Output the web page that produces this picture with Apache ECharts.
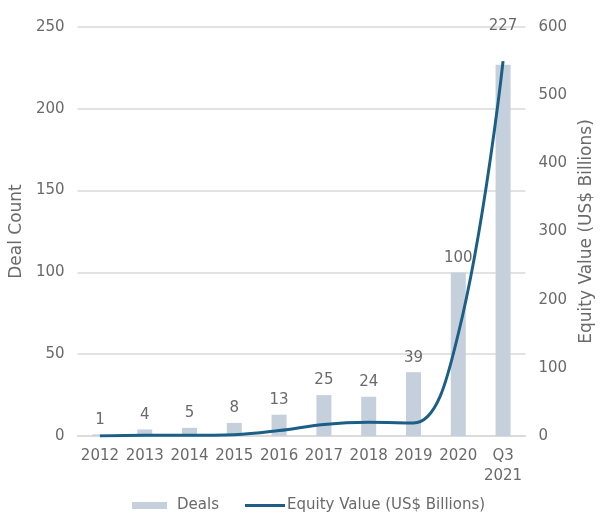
<!DOCTYPE html>
<html><head><meta charset="utf-8">
<script src="https://cdn.jsdelivr.net/npm/echarts@6/dist/echarts.min.js"></script>
<style>html,body{margin:0;padding:0;background:#fff}#c{width:603px;height:520px}</style>
</head><body><div id="c"></div>
<script>
const categories = ['2012','2013','2014','2015','2016','2017','2018','2019','2020','Q3\n2021'];
const deals = [1,4,5,8,13,25,24,39,100,227];
const equityValue = [0,1,1,2,8,17,20,19,150,550];
const leftTicks = {min:0,max:250,interval:50};
const rightTicks = {min:0,max:600,interval:100};

const font = 'DejaVu Sans, Verdana, sans-serif';
const grey = '#6a6a6a';
const barColor = '#c6d0dd';
const lineColor = '#1b5f87';
const chart = echarts.init(document.getElementById('c'));
chart.setOption({
  animation:false,
  grid:{left:76,right:70,top:27,bottom:84},
  legend:[{
    left:132, top:498, padding:0, itemWidth:35, itemHeight:7, itemGap:0,
    textStyle:{fontFamily:font,fontSize:15,color:grey,padding:[0,0,0,5]},
    data:[{name:'Deals',icon:'rect'}]
  },{
    left:245, top:498, padding:0, itemWidth:40, itemHeight:3, itemGap:0,
    textStyle:{fontFamily:font,fontSize:15,color:grey,padding:[0,0,0,-3]},
    data:[{name:'Equity Value (US$ Billions)',icon:'rect'}]
  }],
  xAxis:{
    type:'category', data:categories,
    axisLine:{lineStyle:{color:'#d9d9d9',width:1.5}},
    axisTick:{show:false},
    axisLabel:{fontFamily:font,fontSize:15,color:grey,margin:10,lineHeight:20,interval:0}
  },
  yAxis:[{
    type:'value', min:leftTicks.min, max:leftTicks.max, interval:leftTicks.interval,
    name:'Deal Count', nameLocation:'middle', nameGap:50,
    nameTextStyle:{fontFamily:font,fontSize:17,color:grey},
    axisLabel:{fontFamily:font,fontSize:15,color:grey,margin:13},
    axisLine:{show:false}, axisTick:{show:false},
    splitLine:{lineStyle:{color:'#d9d9d9',width:1.5}}
  },{
    type:'value', min:rightTicks.min, max:rightTicks.max, interval:rightTicks.interval,
    name:'Equity Value (US$ Billions)', nameLocation:'middle', nameGap:50, nameRotate:90,
    nameTextStyle:{fontFamily:font,fontSize:17,color:grey,verticalAlign:'bottom'},
    axisLabel:{fontFamily:font,fontSize:15,color:grey,margin:13},
    axisLine:{show:false}, axisTick:{show:false}, splitLine:{show:false}
  }],
  series:[{
    name:'Deals', type:'bar', yAxisIndex:0, barWidth:15,
    itemStyle:{color:barColor},
    data:deals.map((v,i)=> i===deals.length-1 ? {value:v,label:{offset:[0,-24]}} : v),
    label:{show:true,position:'top',distance:7,fontFamily:font,fontSize:15,color:grey}
  },{
    name:'Equity Value (US$ Billions)', type:'line', yAxisIndex:1, smooth:0.4,
    symbol:'none', lineStyle:{color:lineColor,width:3}, itemStyle:{color:lineColor},
    data:equityValue
  }]
});
</script></body></html>
